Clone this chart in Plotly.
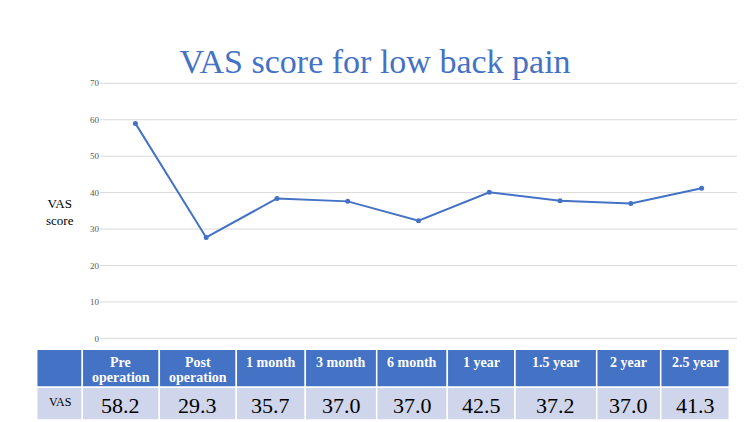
import plotly.graph_objects as go

categories = ["Pre<br>operation", "Post<br>operation", "1 month", "3 month", "6 month",
              "1 year", "1.5 year", "2 year", "2.5 year"]
line_values = [59.0, 27.7, 38.4, 37.6, 32.3, 40.1, 37.8, 37.0, 41.2]
table_values = ["58.2", "29.3", "35.7", "37.0", "37.0", "42.5", "37.2", "37.0", "41.3"]
y_ticks = [0, 10, 20, 30, 40, 50, 60, 70]
row_label = "VAS"

SERIF = "Liberation Serif"
BLUE = "#4472C4"
GRID = "#D9D9D9"
W, H = 750, 422

# table geometry (pixels)
col_widths = [45.6, 77, 77, 69, 71.4, 70.6, 67.7, 81.7, 64, 68.6]
table_left = 36.7
head_top, head_bot, row_bot = 350, 388, 421
header_line_mid = [363.5, 378.5]

# plot area: value 0 at y=339px, 70 at y=82.7px; range padded by 1 unit
unit = (339 - 82.7) / 70.0
y_bottom_px = 339 + unit
y_top_px = 82.7 - unit


def px(x):
    return x / W


def py(y):
    return (H - y) / H


fig = go.Figure()
fig.add_trace(go.Scatter(
    x=list(range(len(categories))), y=line_values, mode="lines+markers",
    line=dict(color=BLUE, width=2), marker=dict(color=BLUE, size=5),
    showlegend=False, hoverinfo="skip",
))

shapes = []
annotations = []

# horizontal gridlines at every tick (drawn through the y axis)
for t in y_ticks:
    shapes.append(dict(type="line", xref="x domain", yref="y", x0=0, x1=1, y0=t, y1=t,
                       line=dict(color=GRID, width=1), layer="below"))

header_texts = [""] + categories
cell_texts = [row_label] + table_values
x = table_left
for i, w in enumerate(col_widths):
    x0, x1 = x, x + w
    shapes.append(dict(type="rect", xref="paper", yref="paper",
                       x0=px(x0), x1=px(x1), y0=py(head_bot), y1=py(head_top),
                       fillcolor=BLUE, line=dict(color="white", width=1.5), layer="above"))
    shapes.append(dict(type="rect", xref="paper", yref="paper",
                       x0=px(x0), x1=px(x1), y0=py(row_bot), y1=py(head_bot),
                       fillcolor="#CFD5EA", line=dict(color="white", width=1.5), layer="above"))
    cx = px((x0 + x1) / 2)
    if header_texts[i]:
        for j, line in enumerate(header_texts[i].split("<br>")):
            annotations.append(dict(text="<b>%s</b>" % line, x=cx, y=py(header_line_mid[j]),
                                    xref="paper", yref="paper", showarrow=False,
                                    xanchor="center", yanchor="middle",
                                    font=dict(family=SERIF, size=14, color="white")))
    if i == 0:
        annotations.append(dict(text=cell_texts[i], x=cx, y=py(403),
                                xref="paper", yref="paper", showarrow=False,
                                xanchor="center", yanchor="middle",
                                font=dict(family=SERIF, size=12, color="black")))
    else:
        annotations.append(dict(text=cell_texts[i], x=cx, y=py(406.5),
                                xref="paper", yref="paper", showarrow=False,
                                xanchor="center", yanchor="middle",
                                font=dict(family=SERIF, size=22, color="black")))
    x = x1

annotations.append(dict(text="VAS<br>score", x=px(60), y=py(212),
                        xref="paper", yref="paper", showarrow=False,
                        xanchor="center", yanchor="middle",
                        font=dict(family=SERIF, size=13, color="black")))

fig.update_layout(
    width=W, height=H,
    margin=dict(l=0, r=0, t=0, b=0),
    paper_bgcolor="white", plot_bgcolor="white",
    title=dict(text="VAS score for low back pain", x=0.5, xanchor="center",
               y=py(61), yanchor="middle",
               font=dict(family=SERIF, size=34, color=BLUE)),
    xaxis=dict(domain=[px(100), px(737)], range=[-0.5, len(categories) - 0.5],
               showticklabels=False, showgrid=False, zeroline=False, showline=False,
               fixedrange=True),
    yaxis=dict(domain=[py(y_bottom_px), py(y_top_px)], range=[-1, 71],
               tickvals=y_ticks, showgrid=False,
               zeroline=False, showline=False, ticks="",
               tickfont=dict(family=SERIF, size=9, color="#595959"),
               fixedrange=True),
    shapes=shapes,
    annotations=annotations,
)

fig.write_html("out.html")
